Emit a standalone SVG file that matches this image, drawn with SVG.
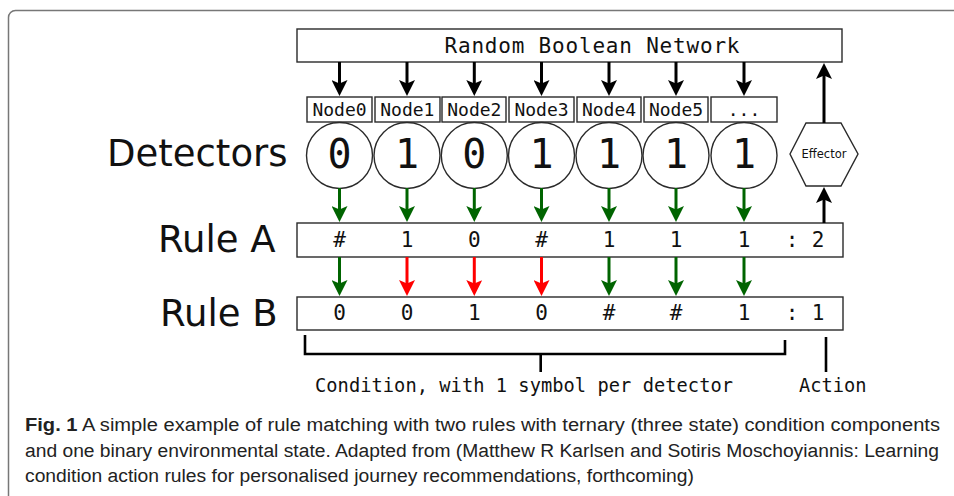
<svg xmlns="http://www.w3.org/2000/svg" width="954" height="496" viewBox="0 0 954 496">
<defs>
<style>
.box{fill:#fff;stroke:#2a2a2a;stroke-width:1.4}
.mono{font-family:"DejaVu Sans Mono","Liberation Mono",monospace;fill:#111}
.sans{font-family:"DejaVu Sans","Liberation Sans",sans-serif;fill:#111}
.cap{font-family:"Liberation Sans","Noto Sans",sans-serif;fill:#222;font-size:18px}
.ab{stroke:#000;stroke-width:3;fill:none}
.ag{stroke:#006400;stroke-width:3;fill:none}
.ar{stroke:#ff0000;stroke-width:3;fill:none}
.br{stroke:#000;stroke-width:2.6;fill:none}
</style>
<marker id="hb" viewBox="0 0 16 16" refX="5" refY="8" markerWidth="16" markerHeight="16" markerUnits="userSpaceOnUse" orient="auto"><path d="M0,0 L16,8 L0,16 L3.5,8 z" fill="#000"/></marker>
<marker id="hg" viewBox="0 0 16 16" refX="5" refY="8" markerWidth="16" markerHeight="16" markerUnits="userSpaceOnUse" orient="auto"><path d="M0,0 L16,8 L0,16 L3.5,8 z" fill="#006400"/></marker>
<marker id="hr" viewBox="0 0 16 16" refX="5" refY="8" markerWidth="16" markerHeight="16" markerUnits="userSpaceOnUse" orient="auto"><path d="M0,0 L16,8 L0,16 L3.5,8 z" fill="#ff0000"/></marker>
</defs>
<rect width="954" height="496" fill="#fff"/>
<rect x="8.5" y="10.5" width="1000" height="600" rx="7" fill="none" stroke="#777" stroke-width="1.5"/>

<g id="rbn">
<rect class="box" x="297" y="29" width="545" height="33"/>
<text class="mono" x="592" y="53" font-size="21" text-anchor="middle" textLength="295" lengthAdjust="spacing">Random Boolean Network</text>
</g>

<g id="nodes">
<g id="node0"><rect class="box" x="307" y="97" width="65" height="25"/><text class="mono" x="339.5" y="116" font-size="18" text-anchor="middle">Node0</text></g>
<g id="node1"><rect class="box" x="375" y="97" width="65" height="25"/><text class="mono" x="407.3" y="116" font-size="18" text-anchor="middle">Node1</text></g>
<g id="node2"><rect class="box" x="442" y="97" width="64" height="25"/><text class="mono" x="474.3" y="116" font-size="18" text-anchor="middle">Node2</text></g>
<g id="node3"><rect class="box" x="509" y="97" width="65" height="25"/><text class="mono" x="541.5" y="116" font-size="18" text-anchor="middle">Node3</text></g>
<g id="node4"><rect class="box" x="577" y="97" width="64" height="25"/><text class="mono" x="609" y="116" font-size="18" text-anchor="middle">Node4</text></g>
<g id="node5"><rect class="box" x="644" y="97" width="64" height="25"/><text class="mono" x="676" y="116" font-size="18" text-anchor="middle">Node5</text></g>
<g id="node6"><rect class="box" x="711" y="97" width="66" height="25"/><text class="mono" x="744" y="116" font-size="18" text-anchor="middle">...</text></g>
</g>

<g id="detectors">
<text class="sans" x="107" y="166" font-size="37">Detectors</text>
<g id="det0"><circle class="box" cx="339.5" cy="155.5" r="33"/><text class="mono" x="339.5" y="168" font-size="40" text-anchor="middle">0</text></g>
<g id="det1"><circle class="box" cx="407" cy="155.5" r="33"/><text class="mono" x="407" y="168" font-size="40" text-anchor="middle">1</text></g>
<g id="det2"><circle class="box" cx="474.3" cy="155.5" r="33"/><text class="mono" x="474.3" y="168" font-size="40" text-anchor="middle">0</text></g>
<g id="det3"><circle class="box" cx="541.5" cy="155.5" r="33"/><text class="mono" x="541.5" y="168" font-size="40" text-anchor="middle">1</text></g>
<g id="det4"><circle class="box" cx="609" cy="155.5" r="33"/><text class="mono" x="609" y="168" font-size="40" text-anchor="middle">1</text></g>
<g id="det5"><circle class="box" cx="676" cy="155.5" r="33"/><text class="mono" x="676" y="168" font-size="40" text-anchor="middle">1</text></g>
<g id="det6"><circle class="box" cx="744" cy="155.5" r="33"/><text class="mono" x="744" y="168" font-size="40" text-anchor="middle">1</text></g>
</g>

<g id="effector">
<polygon class="box" points="790,154 806,123 841,123 858,154 841,186 806,186"/>
<text class="sans" x="824" y="158" font-size="11.5" text-anchor="middle">Effector</text>
</g>

<g id="ruleA">
<text class="sans" x="158" y="252" font-size="37">Rule A</text>
<rect class="box" x="297" y="223" width="546" height="34"/>
<g class="mono" font-size="21" text-anchor="middle">
<text x="339.5" y="247">#</text><text x="407" y="247">1</text><text x="474.3" y="247">0</text><text x="541.5" y="247">#</text><text x="609" y="247">1</text><text x="676" y="247">1</text><text x="744" y="247">1</text><text x="792" y="247">:</text><text x="818" y="247">2</text>
</g>
</g>

<g id="ruleB">
<text class="sans" x="160" y="326" font-size="37">Rule B</text>
<rect class="box" x="297" y="297" width="546" height="33"/>
<g class="mono" font-size="21" text-anchor="middle">
<text x="339.5" y="320">0</text><text x="407" y="320">0</text><text x="474.3" y="320">1</text><text x="541.5" y="320">0</text><text x="609" y="320">#</text><text x="676" y="320">#</text><text x="744" y="320">1</text><text x="792" y="320">:</text><text x="818" y="320">1</text>
</g>
</g>

<g id="connectors">
<line class="ab" marker-end="url(#hb)" x1="339.5" y1="62" x2="339.5" y2="85"/>
<line class="ab" marker-end="url(#hb)" x1="407" y1="62" x2="407" y2="85"/>
<line class="ab" marker-end="url(#hb)" x1="474.3" y1="62" x2="474.3" y2="85"/>
<line class="ab" marker-end="url(#hb)" x1="541.5" y1="62" x2="541.5" y2="85"/>
<line class="ab" marker-end="url(#hb)" x1="609" y1="62" x2="609" y2="85"/>
<line class="ab" marker-end="url(#hb)" x1="676" y1="62" x2="676" y2="85"/>
<line class="ab" marker-end="url(#hb)" x1="744" y1="62" x2="744" y2="85"/>
<line class="ab" marker-end="url(#hb)" x1="824" y1="123" x2="824" y2="74"/>
<line class="ab" marker-end="url(#hb)" x1="824" y1="223" x2="824" y2="198"/>

<line class="ag" marker-end="url(#hg)" x1="339.5" y1="188" x2="339.5" y2="211"/>
<line class="ag" marker-end="url(#hg)" x1="407" y1="188" x2="407" y2="211"/>
<line class="ag" marker-end="url(#hg)" x1="474.3" y1="188" x2="474.3" y2="211"/>
<line class="ag" marker-end="url(#hg)" x1="541.5" y1="188" x2="541.5" y2="211"/>
<line class="ag" marker-end="url(#hg)" x1="609" y1="188" x2="609" y2="211"/>
<line class="ag" marker-end="url(#hg)" x1="676" y1="188" x2="676" y2="211"/>
<line class="ag" marker-end="url(#hg)" x1="744" y1="188" x2="744" y2="211"/>

<line class="ag" marker-end="url(#hg)" x1="339.5" y1="257" x2="339.5" y2="285"/>
<line class="ar" marker-end="url(#hr)" x1="407" y1="257" x2="407" y2="285"/>
<line class="ar" marker-end="url(#hr)" x1="474.3" y1="257" x2="474.3" y2="285"/>
<line class="ar" marker-end="url(#hr)" x1="541.5" y1="257" x2="541.5" y2="285"/>
<line class="ag" marker-end="url(#hg)" x1="609" y1="257" x2="609" y2="285"/>
<line class="ag" marker-end="url(#hg)" x1="676" y1="257" x2="676" y2="285"/>
<line class="ag" marker-end="url(#hg)" x1="744" y1="257" x2="744" y2="285"/>

<path class="br" d="M305,335 V354 H785 V340 M540.7,354 V372"/>
<path class="br" d="M826,337 V372"/>
</g>

<g id="labels">
<text class="mono" x="315" y="392" font-size="18.7" textLength="418" lengthAdjust="spacing">Condition, with 1 symbol per detector</text>
<text class="mono" x="799" y="392" font-size="18.7">Action</text>
</g>

<g id="caption">
<text class="cap" x="25" y="431" textLength="915" lengthAdjust="spacingAndGlyphs"><tspan font-weight="bold">Fig. 1</tspan>  A simple example of rule matching with two rules with ternary (three state) condition components</text>
<text class="cap" x="25" y="457" textLength="914" lengthAdjust="spacingAndGlyphs">and one binary environmental state. Adapted from (Matthew R Karlsen and Sotiris Moschoyiannis: Learning</text>
<text class="cap" x="25" y="482" textLength="669" lengthAdjust="spacingAndGlyphs">condition action rules for personalised journey recommendations, forthcoming)</text>
</g>
</svg>
